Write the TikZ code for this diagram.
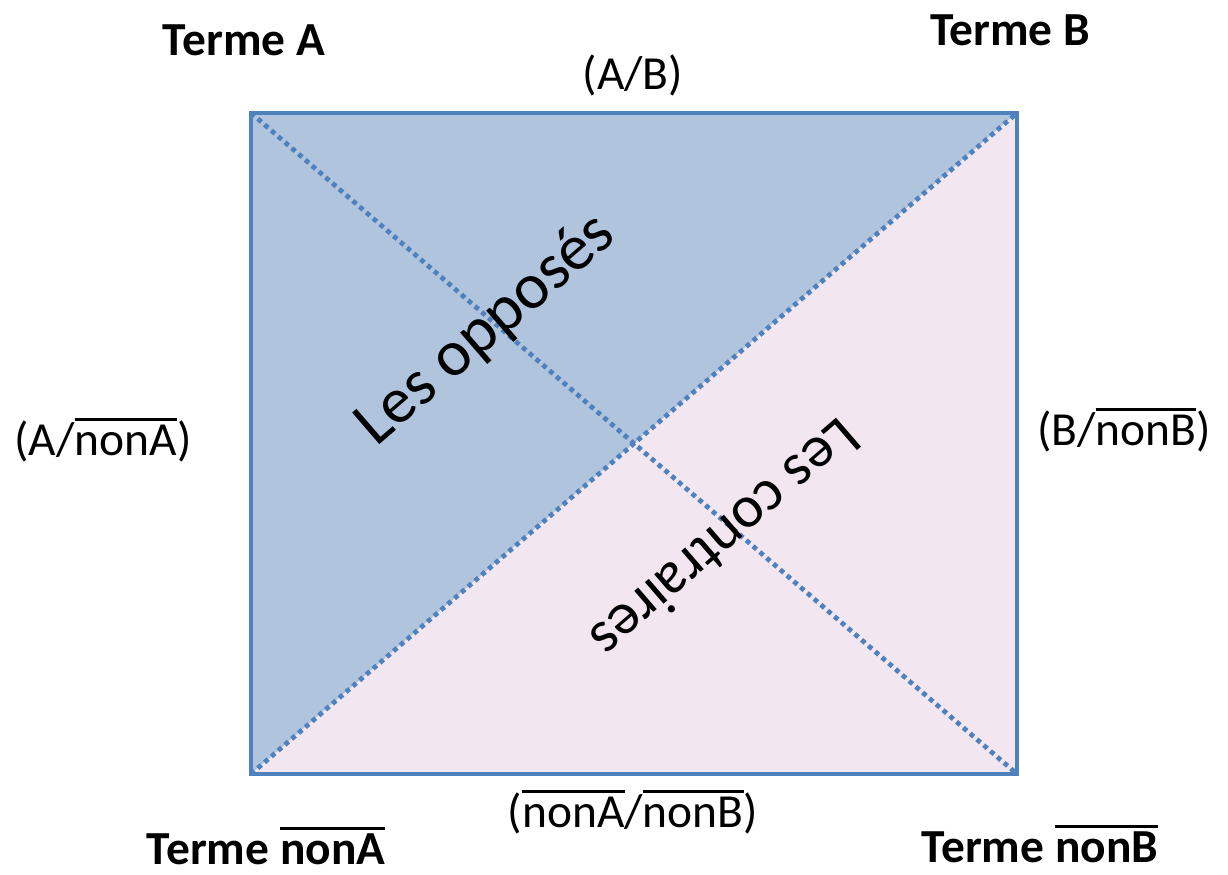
\documentclass[tikz,border=0pt]{standalone}
\usepackage{fontspec}
\setmainfont{Carlito}
\usetikzlibrary{positioning}

\definecolor{cadre}{RGB}{79,129,189}
\definecolor{bleufond}{RGB}{176,196,222}
\definecolor{rosefond}{RGB}{242,230,240}

\newcommand\barre[1]{\leavevmode\vbox{\hrule height 1.7pt\kern 1.9pt\hbox{#1}}}

\tikzset{
  terme/.style={font=\fontsize{27}{31}\selectfont\bfseries, inner sep=0pt},
  paire/.style={font=\fontsize{27}{31}\selectfont, inner sep=0pt},
  relation/.style={font=\fontsize{37}{43}\selectfont, inner sep=0pt},
  diagonale/.style={draw=cadre, line width=2.7pt, dash pattern=on 2.7pt off 2.4pt},
}

\begin{document}
\begin{tikzpicture}[x=0.02cm, y=-0.02cm]
        \useasboundingbox (0,0) rectangle (1228,875);

        % les quatre coins du carre
        \coordinate (hg) at (251,113);
        \coordinate (hd) at (1017,113);
        \coordinate (bd) at (1017,774);
        \coordinate (bg) at (251,774);

        \fill[bleufond] (hg) -- (hd) -- (bg) -- cycle;
        \fill[rosefond] (hd) -- (bd) -- (bg) -- cycle;

        \draw[diagonale] (hg) -- (bd);
        \draw[diagonale] (bg) -- (hd);
        \draw[cadre, line width=2pt] (hg) rectangle (bd);

        \node[terme] (termeA) at (244,40) {Terme A};
        \node[terme] (termeB) at (1010,30) {Terme B};
        \node[terme] (termenonA) at (266,846) {Terme \barre{nonA}};
        \node[terme] (termenonB) at (1040,844) {Terme \barre{nonB}};

        \node[paire] (AB) at (633,75) {(A/B)};
        \node[paire] (AnonA) at (103,440) {(A/\barre{nonA})};
        \node[paire] (BnonB) at (1124,430) {(B/\barre{nonB})};
        \node[paire] (nonAnonB) at (633,812) {(\barre{nonA}/\barre{nonB})};

        \node[relation, rotate=40.8] (opposes) at (486,330) {Les opposés};
        \node[relation, rotate=220.8, font=\fontsize{34}{40}\selectfont] (contraires) at (726,540) {Les contraires};
\end{tikzpicture}
\end{document}
